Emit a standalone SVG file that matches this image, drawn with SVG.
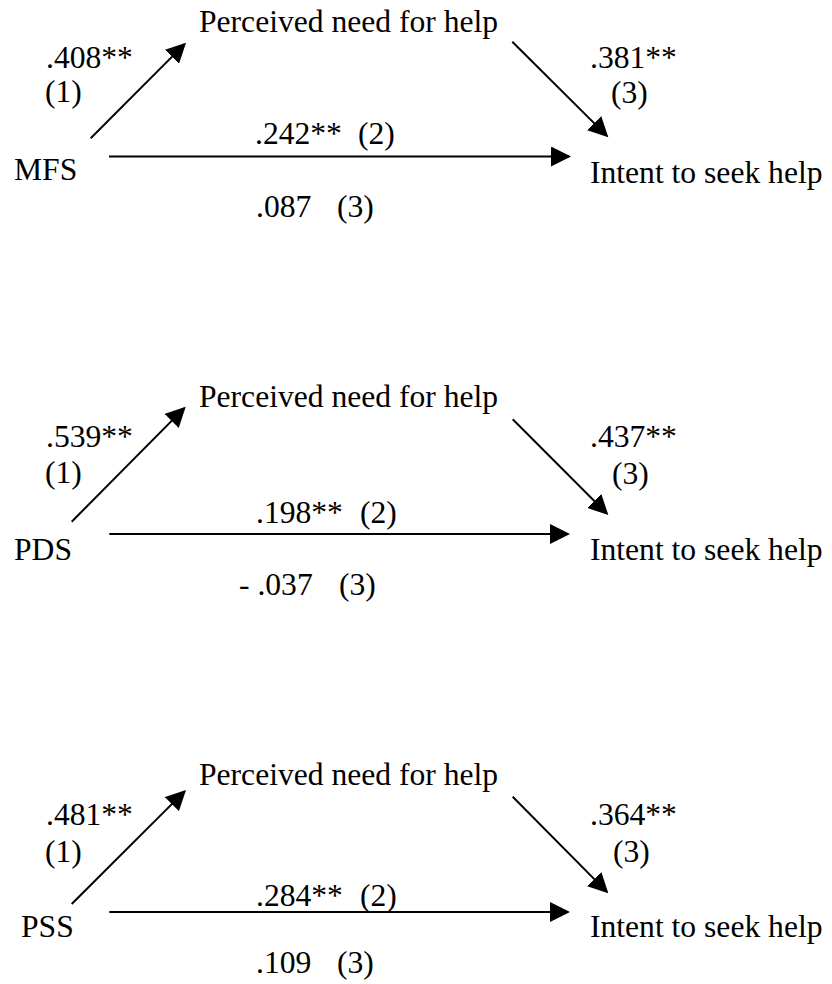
<svg xmlns="http://www.w3.org/2000/svg" width="832" height="984" viewBox="0 0 832 984">
<style>
text{font-family:"Liberation Serif","Times New Roman",serif;font-size:31.6px;fill:#000}
.c{stroke:#000;stroke-width:2;fill:none}
</style>
<defs>
<marker id="ah" markerUnits="userSpaceOnUse" markerWidth="20" markerHeight="20" refX="18" refY="10" orient="auto">
<path d="M0,0 L20,10 L0,20 z" fill="#000"/>
</marker>
</defs>
<rect width="832" height="984" fill="#fff"/>
<g id="connectors">
<line class="c" x1="90.7" y1="138.3" x2="184.6" y2="44.1" marker-end="url(#ah)"/>
<line class="c" x1="512.3" y1="41.7" x2="606.9" y2="135.9" marker-end="url(#ah)"/>
<line class="c" x1="109" y1="156.5" x2="569" y2="156.5" marker-end="url(#ah)"/>
<line class="c" x1="71.7" y1="521.7" x2="184.3" y2="408.1" marker-end="url(#ah)"/>
<line class="c" x1="512.7" y1="419.3" x2="606.9" y2="513.6" marker-end="url(#ah)"/>
<line class="c" x1="109.3" y1="534" x2="568" y2="534" marker-end="url(#ah)"/>
<line class="c" x1="71.7" y1="904" x2="184.6" y2="791.4" marker-end="url(#ah)"/>
<line class="c" x1="512.7" y1="796.7" x2="606.9" y2="891.9" marker-end="url(#ah)"/>
<line class="c" x1="109.3" y1="912" x2="568" y2="912" marker-end="url(#ah)"/>
</g>
<g id="labels">
<text x="46" y="68">.408**</text>
<text x="45" y="102">(1)</text>
<text x="590" y="68">.381**</text>
<text x="611" y="103">(3)</text>
<text x="255" y="143.5">.242** <tspan x="358">(2)</tspan></text>
<text x="256" y="217">.087 <tspan x="337">(3)</tspan></text>
<text x="46" y="447">.539**</text>
<text x="45" y="483">(1)</text>
<text x="590" y="447">.437**</text>
<text x="612" y="484">(3)</text>
<text x="256" y="523">.198** <tspan x="360">(2)</tspan></text>
<text x="239" y="595">- .037 <tspan x="339">(3)</tspan></text>
<text x="46" y="825">.481**</text>
<text x="45" y="862">(1)</text>
<text x="590" y="825">.364**</text>
<text x="613" y="862">(3)</text>
<text x="256" y="906">.284** <tspan x="360">(2)</tspan></text>
<text x="256" y="973">.109 <tspan x="337">(3)</tspan></text>
</g>
<g id="node-mfs"><text x="14" y="180">MFS</text></g>
<g id="node-need1"><text x="199" y="32">Perceived need for help</text></g>
<g id="node-intent1"><text x="590" y="183">Intent to seek help</text></g>
<g id="node-pds"><text x="14" y="560">PDS</text></g>
<g id="node-need2"><text x="199" y="407">Perceived need for help</text></g>
<g id="node-intent2"><text x="590" y="560">Intent to seek help</text></g>
<g id="node-pss"><text x="21" y="937">PSS</text></g>
<g id="node-need3"><text x="199" y="785">Perceived need for help</text></g>
<g id="node-intent3"><text x="590" y="937">Intent to seek help</text></g>
</svg>
